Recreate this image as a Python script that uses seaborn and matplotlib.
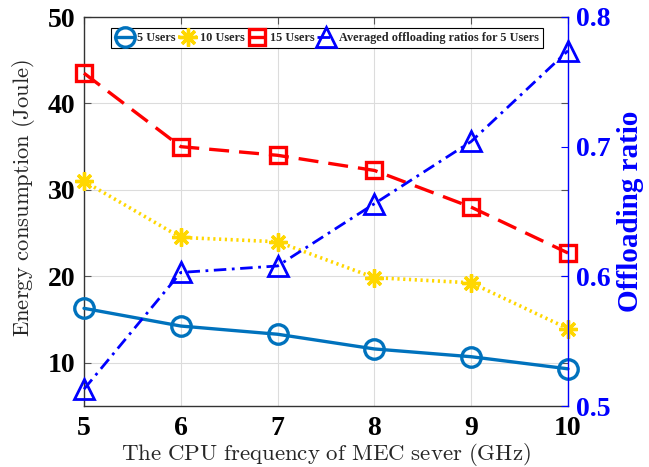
import matplotlib
matplotlib.use("Agg")
import matplotlib.pyplot as plt
import seaborn as sns
import numpy as np

freq = [5, 6, 7, 8, 9, 10]
users5 = [16.3, 14.25, 13.3, 11.6, 10.7, 9.3]
users10 = [31.0, 24.5, 24.0, 19.85, 19.25, 13.95]
users15 = [43.5, 35.0, 34.0, 32.25, 28.0, 22.7]
ratio5 = [0.513, 0.603, 0.608, 0.656, 0.704, 0.774]

sns.set_theme(style="whitegrid")
plt.rcParams['font.family'] = ['Liberation Serif', 'DejaVu Serif']
plt.rcParams['mathtext.fontset'] = 'cm'

fig = plt.figure(figsize=(6.49, 4.67), dpi=100)
ax = fig.add_axes([84/649, 1-406/467, 484/649, 389/467])
ax2 = ax.twinx()

c5 = '#0072BD'
c10 = '#FFD700'
c15 = '#FF0000'
cr = '#0000FF'

sns.lineplot(x=freq, y=users5, ax=ax, color=c5, lw=2.4, marker='o', ms=14,
             mfc='none', mec=c5, mew=2.4, label='5 Users', legend=False, clip_on=False, zorder=3)
sns.lineplot(x=freq, y=users10, ax=ax, color=c10, lw=2.6, ls=(0, (0.6, 1.0)), marker=(8, 2, 0), ms=13,
             mec=c10, mew=2.4, label='10 Users', legend=False, clip_on=False, zorder=3)
sns.lineplot(x=freq, y=users15, ax=ax, color=c15, lw=2.4, ls=(0, (6, 3)), marker='s', ms=12,
             mfc='none', mec=c15, mew=2.4, label='15 Users', legend=False, clip_on=False, zorder=3)
sns.lineplot(x=freq, y=ratio5, ax=ax2, color=cr, lw=2.0, ls=(0, (4.5, 2, 1, 2)), marker='^', ms=14,
             mfc='none', mec=cr, mew=2.0, label='Averaged offloading ratios for 5 Users',
             legend=False, clip_on=False, zorder=3)

ax.set_xlim(5, 10)
ax.set_ylim(5, 50)
ax2.set_ylim(0.5, 0.8)
ax.set_xticks(freq)
ax.set_yticks([10, 20, 30, 40, 50])
ax2.set_yticks([0.5, 0.6, 0.7, 0.8])
ax2.set_yticklabels(['0.5', '0.6', '0.7', '0.8'])
ax2.grid(False)
ax.grid(True, color='#DCDCDC', lw=0.8)

for lab in ax.get_xticklabels() + ax.get_yticklabels():
    lab.set_fontweight('bold')
    lab.set_fontsize(20)
for lab in ax2.get_yticklabels():
    lab.set_fontweight('bold')
    lab.set_fontsize(20)
    lab.set_color(cr)

ax.tick_params(axis='both', direction='in', length=5, width=0.8, color='#555555',
               right=True, top=True, labelright=False, labeltop=False, labelcolor='black')
ax.tick_params(axis='y', pad=6)
ax.tick_params(axis='x', pad=7)
ax2.tick_params(axis='y', direction='in', length=5, width=0.8, color=cr, pad=6, labelcolor=cr)

for s in ['left', 'bottom', 'top']:
    ax.spines[s].set_color('#333333')
    ax.spines[s].set_linewidth(1.0)
for s in ax2.spines:
    ax2.spines[s].set_visible(False)
ax2.spines['right'].set_visible(True)
ax2.spines['right'].set_color(cr)
ax2.spines['right'].set_linewidth(1.0)
ax.spines['right'].set_visible(False)

ax.set_xlabel(r'$\mathrm{The\ CPU\ frequency\ of\ MEC\ sever\ (GHz)}$', fontsize=16.5, labelpad=0)
ax.set_ylabel(r'$\mathrm{Energy\ consumption\ (Joule)}$', fontsize=16.3)
ax.yaxis.set_label_coords(-0.097, 0.535)
ax2.set_ylabel('Offloading ratio', fontsize=21, fontweight='bold', color=cr, labelpad=4)

h1, l1 = ax.get_legend_handles_labels()
h2, l2 = ax2.get_legend_handles_labels()
leg = ax2.legend(h1 + h2, l1 + l2, loc='upper center', bbox_to_anchor=(0.502, 0.972), ncol=4,
                 prop={'family': 'Liberation Serif', 'weight': 'bold', 'size': 8.8},
                 frameon=True, fancybox=False, edgecolor='black', framealpha=1,
                 handlelength=1.5, handletextpad=0.3, columnspacing=0.2, borderpad=0.35,
                 borderaxespad=0, markerscale=1.0)
leg.get_frame().set_linewidth(0.8)

fig.savefig('out.png', dpi=100)
